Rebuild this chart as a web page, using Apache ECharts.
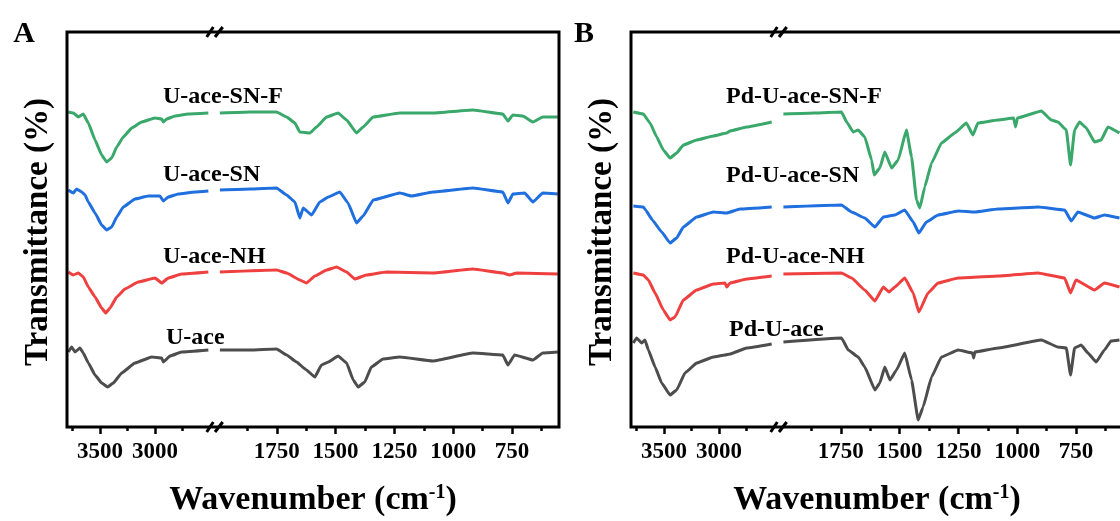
<!DOCTYPE html>
<html>
<head>
<meta charset="utf-8">
<title>FTIR spectra</title>
<script src="https://cdn.jsdelivr.net/npm/echarts@6/dist/echarts.min.js"></script>
<style>
  html, body { margin: 0; padding: 0; background: #fff; }
  #chart { width: 1120px; height: 521px; }
</style>
</head>
<body>
<div id="chart"></div>
<script>
// broken wavenumber axis (cm-1): high part left of the break, low part right of it
const highRange = [2500, 3800]
const lowRange = [550, 2000]
const highMajor = [3500, 3000]
const highMinor = [3750, 3250, 2750]
const lowMajor = [1750, 1500, 1250, 1000, 750]
const lowMinor = [1875, 1625, 1375, 1125, 875, 625]

const namesA = ['U-ace-SN-F', 'U-ace-SN', 'U-ace-NH', 'U-ace']
const namesB = ['Pd-U-ace-SN-F', 'Pd-U-ace-SN', 'Pd-U-ace-NH', 'Pd-U-ace']
const colors = ['#3aa86a', '#1f6fdf', '#ef4040', '#4d4d4d']

// [wavenumber, transmittance (offset, a.u.)]
const uAceSnF = [[3788,315],[3743,314],[3697,310],[3652,313],[3606,304],[3545,287],[3485,272],[3439,265],[3394,269],[3348,280],[3288,290],[3212,299],[3121,305],[3000,309],[2939,308],[2924,305],[2894,308],[2818,311],[2697,313],[2515,314],
  [1992,314],[1864,315],[1751,315],[1708,310],[1673,304],[1652,295],[1609,294],[1581,300],[1538,310],[1489,314],[1453,307],[1411,294],[1383,300],[1340,310],[1227,314],[1086,314],[916,317],[789,313],[767,306],[746,312],[704,311],[661,305],[619,310],[555,310]]
const uAceSn = [[3788,237],[3743,234],[3712,238],[3666,235],[3636,232],[3606,225],[3545,214],[3485,202],[3439,197],[3394,200],[3348,210],[3288,220],[3182,228],[3061,231],[2955,231],[2924,226],[2879,230],[2788,233],[2636,235],[2515,236],
  [1992,237],[1864,238],[1751,239],[1708,232],[1673,225],[1652,209],[1638,219],[1602,212],[1567,225],[1531,230],[1482,235],[1447,224],[1411,204],[1383,211],[1340,227],[1227,234],[1177,231],[1086,235],[916,239],[789,235],[767,224],[746,233],[696,234],[661,225],[619,234],[555,233]]
const uAceNh = [[3788,155],[3743,152],[3697,154],[3652,150],[3606,140],[3545,130],[3485,119],[3448,114],[3409,119],[3348,130],[3273,138],[3152,145],[3000,149],[2939,144],[2879,149],[2758,153],[2515,155],
  [1992,155],[1751,157],[1708,154],[1652,147],[1624,144],[1588,151],[1538,157],[1496,160],[1453,155],[1418,148],[1369,152],[1284,155],[1086,154],[916,158],[789,154],[760,152],[730,154],[555,153]]
const uAce = [[3788,75],[3758,80],[3727,75],[3682,79],[3652,74],[3606,64],[3545,52],[3485,44],[3430,40],[3379,44],[3303,54],[3182,64],[3030,70],[2939,69],[2924,65],[2864,71],[2758,75],[2515,77],
  [1992,77],[1864,77],[1751,78],[1708,72],[1666,65],[1624,57],[1588,50],[1560,62],[1531,65],[1489,71],[1453,64],[1425,47],[1404,40],[1376,45],[1348,60],[1298,68],[1227,70],[1086,66],[916,74],[789,72],[767,62],[739,72],[661,67],[619,74],[555,75]]

const pdUAceSnF = [[3779,315],[3688,313],[3627,304],[3566,290],[3506,277],[3445,269],[3385,274],[3324,282],[3203,287],[3052,291],[2930,294],[2900,296],[2748,300],[2521,305],
  [1994,313],[1860,314],[1747,315],[1725,305],[1697,295],[1676,297],[1648,290],[1619,267],[1608,252],[1584,259],[1563,275],[1534,259],[1506,267],[1471,297],[1449,270],[1428,227],[1414,219],[1393,240],[1364,264],[1322,284],[1265,294],[1216,304],[1188,292],[1167,304],[1081,307],[1015,309],[1007,300],[999,309],[897,316],[855,307],[827,305],[791,297],[773,262],[756,297],[735,305],[706,299],[671,285],[643,287],[614,300],[565,294]]
const pdUAceSn = [[3779,221],[3688,220],[3667,217],[3606,207],[3521,195],[3445,184],[3385,189],[3324,200],[3203,210],[3052,215],[2930,214],[2809,218],[2521,220],
  [1994,220],[1747,222],[1704,215],[1648,209],[1605,200],[1569,210],[1520,212],[1478,217],[1442,205],[1418,194],[1386,205],[1336,212],[1251,216],[1181,215],[1081,218],[911,220],[798,217],[770,206],[742,215],[671,209],[629,212],[565,209]]
const pdUAceNh = [[3779,154],[3688,152],[3642,147],[3581,134],[3506,117],[3445,107],[3400,110],[3324,127],[3203,137],[3052,143],[2945,144],[2930,140],[2900,144],[2748,148],[2521,151],
  [1994,153],[1747,154],[1704,149],[1648,137],[1605,126],[1569,140],[1545,135],[1520,140],[1478,149],[1442,134],[1418,115],[1379,134],[1336,144],[1251,149],[1081,151],[911,154],[798,149],[773,134],[750,147],[671,137],[629,144],[565,140]]
const pdUAce = [[3779,84],[3749,89],[3703,84],[3673,87],[3642,77],[3581,60],[3521,44],[3445,32],[3385,37],[3309,54],[3203,64],[3052,70],[2945,72],[2900,73],[2748,79],[2521,83],
  [1994,85],[1747,89],[1718,77],[1676,70],[1648,60],[1605,37],[1584,44],[1563,60],[1541,47],[1513,57],[1478,74],[1449,47],[1421,7],[1400,20],[1364,50],[1322,70],[1251,77],[1190,74],[1185,69],[1180,75],[1081,79],[897,87],[827,80],[791,79],[773,52],[756,79],[728,82],[699,74],[664,65],[629,77],[601,86],[565,87]]

const FONT = '"Liberation Serif", "Times New Roman", serif'
const TOP = 32
const HEIGHT = 395
const HIGH_W = 143
const LOW_GAP = 151
const LOW_W = 341

const panels = [
  { x0: 67, letter: 'A', letterX: 24, names: namesA, spectra: [uAceSnF, uAceSn, uAceNh, uAce], labelY: [97, 175, 257, 338], labelDx: [96, 96, 96, 99] },
  { x0: 631, letter: 'B', letterX: 584, names: namesB, spectra: [pdUAceSnF, pdUAceSn, pdUAceNh, pdUAce], labelY: [97, 176, 257, 330], labelDx: [95, 95, 95, 98] }
]

const grid = []
const xAxis = []
const yAxis = []
const series = []
const graphic = []

function addSegment(left, width, range, major, minor) {
  // main grid: labels + major ticks, carries the series
  const gi = grid.length
  grid.push({ left, top: TOP, width, height: HEIGHT, outerBoundsMode: 'none', containLabel: false })
  xAxis.push({
    gridIndex: gi, type: 'value', inverse: true, min: range[0], max: range[1],
    axisLine: { show: false }, splitLine: { show: false },
    axisTick: { show: true, customValues: major, length: 7, lineStyle: { color: '#000', width: 2.5 } },
    axisLabel: {
      customValues: major, margin: 14, color: '#000', fontFamily: FONT, fontWeight: 'bold', fontSize: 23,
      formatter: v => String(v)
    }
  })
  yAxis.push({ gridIndex: gi, type: 'value', min: 0, max: HEIGHT, show: false })
  // twin grid: minor ticks only
  const mi = grid.length
  grid.push({ left, top: TOP, width, height: HEIGHT, outerBoundsMode: 'none', containLabel: false })
  xAxis.push({
    gridIndex: mi, type: 'value', inverse: true, min: range[0], max: range[1],
    axisLine: { show: false }, splitLine: { show: false },
    axisTick: { show: true, customValues: minor, length: 4, lineStyle: { color: '#000', width: 2.5 } },
    axisLabel: { show: false }
  })
  yAxis.push({ gridIndex: mi, type: 'value', min: 0, max: HEIGHT, show: false })
  return gi
}

function breakMarks(cx, y) {
  const offs = [[-8.3, -1.7], [0, 7.7]]
  offs.forEach(([a, b]) => {
    graphic.push({
      type: 'line', z: 20,
      shape: { x1: cx + a, y1: y + 5, x2: cx + b, y2: y - 5 },
      style: { stroke: '#000', lineWidth: 3 }
    })
  })
}

panels.forEach(p => {
  const hi = addSegment(p.x0, HIGH_W, highRange, highMajor, highMinor)
  const lo = addSegment(p.x0 + LOW_GAP, LOW_W, lowRange, lowMajor, lowMinor)

  p.spectra.forEach((spec, i) => {
    const common = {
      type: 'line', name: p.names[i], showSymbol: false, smooth: 0.1, smoothMonotone: 'x', clip: true,
      lineStyle: { color: colors[i], width: 3 }, itemStyle: { color: colors[i] }
    }
    series.push({ ...common, xAxisIndex: hi, yAxisIndex: hi, data: spec.filter(d => d[0] >= highRange[0]) })
    series.push({ ...common, xAxisIndex: lo, yAxisIndex: lo, data: spec.filter(d => d[0] <= lowRange[1]) })

    graphic.push({
      type: 'text', z: 15,
      x: p.x0 + p.labelDx[i], y: p.labelY[i],
      style: { text: p.names[i], fill: '#000', font: `bold 24px ${FONT}`, align: 'left', verticalAlign: 'middle' }
    })
  })

  // plot frame
  graphic.push({
    type: 'rect', z: 18,
    shape: { x: p.x0, y: TOP, width: LOW_GAP + LOW_W, height: HEIGHT },
    style: { fill: 'none', stroke: '#000', lineWidth: 3 }
  })
  breakMarks(p.x0 + 148, TOP)
  breakMarks(p.x0 + 148, TOP + HEIGHT)

  // panel letter
  graphic.push({
    type: 'text', z: 15, x: p.letterX, y: 34,
    style: { text: p.letter, fill: '#000', font: `bold 30px ${FONT}`, align: 'center', verticalAlign: 'middle' }
  })
  // y title
  graphic.push({
    type: 'text', z: 15, x: p.x0 - 29, y: 232, rotation: Math.PI / 2,
    style: { text: 'Transmittance (%)', fill: '#000', font: `bold 33px ${FONT}`, align: 'center', verticalAlign: 'middle' }
  })
  // x title with superscript
  graphic.push({
    type: 'text', z: 15, x: p.x0 + 246, y: 500,
    style: {
      text: '{m|Wavenumber (cm}{s|-1}{m|)}',
      align: 'center', verticalAlign: 'middle',
      rich: {
        m: { fontSize: 34, fontWeight: 'bold', fontFamily: FONT, fill: '#000' },
        s: { fontSize: 20, fontWeight: 'bold', fontFamily: FONT, fill: '#000', verticalAlign: 'top' }
      }
    }
  })
})

const chart = echarts.init(document.getElementById('chart'))
chart.setOption({
  animation: false,
  backgroundColor: '#fff',
  grid, xAxis, yAxis, series, graphic
})

window.addEventListener('resize', () => chart.resize())
</script>
</body>
</html>
